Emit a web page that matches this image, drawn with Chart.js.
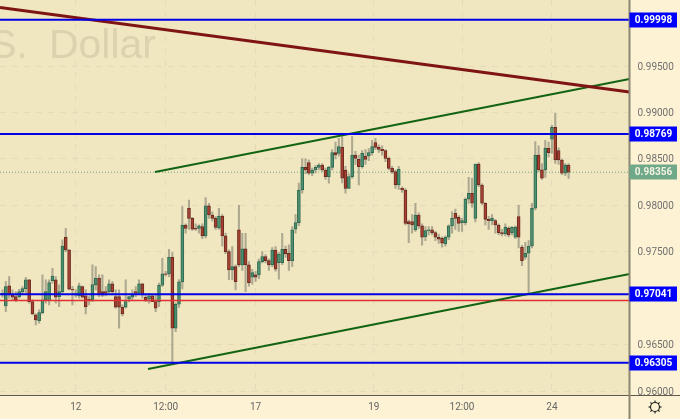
<!DOCTYPE html>
<html lang="en">
<head>
    <meta charset="UTF-8">
    <title>U.S. Dollar</title>
    <script src="https://cdn.jsdelivr.net/npm/chart.js"></script>
    <style>
        html, body { margin: 0; padding: 0; background: #fdf2d3; }
        canvas { display: block; }
    </style>
</head>
<body>
    <canvas id="priceChart" width="680" height="419"></canvas>

    <script>
        const opens = [
            .97035,.96916,.97132,.97035,.97017,.97017,.97067,.97103,.97196,.96963,
            .96820,.96758,.96845,.96981,.96974,.97189,.97196,.97017,.97071,.97656,
            .97519,.97096,.97031,.97024,.97125,.97024,.96988,.96974,.97143,.97214,
            .97071,.97071,.97071,.97153,.97017,.97017,.96902,.96902,.96988,.97010,
            .97071,.97053,.97153,.97010,.96988,.97024,.96963,.96963,.97139,.97261,
            .97261,.97440,.96676,.96934,.97175,.97788,.97968,.97860,.97752,.97752,
            .97770,.97670,.97993,.97896,.97860,.97756,.97885,.97670,.97501,.97304,
            .97340,.97735,.97358,.97530,.97358,.97225,.97250,.97250,.97394,.97448,
            .97404,.97358,.97519,.97383,.97383,.97526,.97483,.97404,.97742,.97814,
            .98165,.98409,.98459,.98345,.98380,.98409,.98434,.98380,.98309,.98409,
            .98567,.98560,.98624,.98380,.98183,.98309,.98542,.98495,.98416,.98531,
            .98531,.98567,.98675,.98624,.98603,.98589,.98506,.98398,.98362,.98219,
            .98183,.98165,.97824,.97824,.97735,.97896,.97778,.97663,.97728,.97735,
            .97706,.97656,.97645,.97584,.97656,.97778,.97914,.97871,.97814,.97814,
            .98065,.98129,.97860,.98445,.98219,.98022,.97849,.97835,.97835,.97788,
            .97706,.97692,.97753,.97706,.97656,.97878,.97548,.97441,.97484,.97562,.97968,
            .98542,.98381,.98381,.98614,.98711,.98840,.98589,.98488,.98345,.98434
        ];
        const highs = [
            .97089,.97178,.97232,.97089,.97071,.97096,.97125,.97225,.97203,.96981,
            .96830,.96873,.97250,.97196,.97196,.97322,.97232,.97143,.97627,.97752,
            .97526,.97125,.97089,.97161,.97132,.97089,.97017,.97358,.97340,.97250,
            .97250,.97125,.97196,.97178,.97089,.97089,.96927,.97196,.97017,.97089,
            .97125,.97196,.97160,.97035,.97053,.97040,.97035,.97161,.97429,.97290,
            .97526,.97490,.96950,.97200,.97986,.97800,.98057,.97870,.97800,.97790,
            .97800,.98083,.98020,.97930,.97880,.97968,.97900,.97700,.97520,.97555,
            .97360,.98000,.97699,.97699,.97394,.97311,.97290,.97420,.97501,.97470,
            .97420,.97545,.97555,.97490,.97699,.97560,.97573,.97770,.97900,.98240,
            .98500,.98500,.98490,.98400,.98430,.98450,.98450,.98400,.98420,.98600,
            .98680,.98721,.98739,.98420,.98340,.98739,.98580,.98540,.98590,.98600,
            .98610,.98700,.98721,.98650,.98640,.98600,.98520,.98420,.98380,.98420,
            .98200,.98180,.97840,.97900,.98022,.97920,.97800,.97770,.97770,.97770,
            .97720,.97690,.97660,.97670,.97790,.97930,.97960,.97890,.97860,.98080,
            .98300,.98290,.98445,.98460,.98230,.98030,.97880,.97900,.97850,.97800,
            .97740,.97800,.97770,.97770,.97780,.98000,.97570,.97600,.97620,.98020,.98685,
            .98640,.98450,.98700,.98680,.98860,.98990,.98620,.98500,.98450,.98450
        ];
        const lows = [
            .97010,.96855,.97000,.96981,.96963,.97000,.97046,.97053,.96945,.96820,
            .96712,.96730,.96830,.96945,.96927,.97161,.96945,.96909,.97053,.97501,
            .97089,.96927,.97010,.97000,.97000,.96830,.96927,.96963,.97089,.97017,
            .97017,.97024,.97053,.97035,.96891,.96676,.96809,.96891,.96960,.96981,
            .97017,.97046,.97000,.96963,.96945,.96963,.96855,.96909,.97125,.97240,
            .97232,.96305,.96640,.96900,.97100,.97700,.97740,.97730,.97730,.97700,
            .97640,.97650,.97860,.97830,.97740,.97740,.97560,.97480,.97200,.97196,
            .97089,.97340,.97300,.97071,.97130,.97150,.97180,.97210,.97380,.97380,
            .97300,.97340,.97290,.97204,.97360,.97440,.97300,.97340,.97700,.97780,
            .98130,.98340,.98330,.98320,.98350,.98380,.98360,.98280,.98237,.98380,
            .98500,.98530,.98240,.98130,.98180,.98290,.98440,.98219,.98400,.98440,
            .98480,.98540,.98600,.98570,.98540,.98470,.98380,.98340,.98183,.98170,
            .98140,.97790,.97598,.97700,.97720,.97750,.97570,.97620,.97680,.97680,
            .97620,.97590,.97550,.97560,.97630,.97700,.97740,.97720,.97720,.97790,
            .98020,.97980,.97820,.98200,.98010,.97790,.97740,.97790,.97700,.97680,
            .97670,.97670,.97660,.97680,.97640,.97540,.97350,.97420,.97041,.97540,.97950,
            .98360,.98280,.98300,.98520,.98560,.98450,.98440,.98330,.98320,.98290
        ];
        const closes = [
            .97053,.97125,.97035,.97010,.96981,.97071,.97103,.97196,.96963,.96830,
            .96766,.96845,.96981,.97071,.97168,.97239,.97010,.97071,.97562,.97519,
            .97096,.97089,.97046,.97132,.97010,.96909,.96974,.97146,.97214,.97035,
            .97031,.97053,.97153,.97071,.96902,.96902,.96830,.96963,.97017,.97035,
            .97053,.97153,.97035,.96981,.97024,.96963,.96891,.97139,.97261,.97255,
            .97440,.96676,.96934,.97175,.97788,.97752,.97860,.97742,.97742,.97778,
            .97670,.97993,.97896,.97860,.97763,.97885,.97670,.97501,.97304,.97340,
            .97178,.97358,.97530,.97358,.97168,.97275,.97225,.97394,.97448,.97404,
            .97358,.97519,.97311,.97476,.97526,.97476,.97404,.97735,.97814,.98165,
            .98409,.98380,.98345,.98380,.98409,.98434,.98380,.98309,.98409,.98567,
            .98542,.98632,.98291,.98183,.98309,.98542,.98506,.98416,.98560,.98495,
            .98567,.98632,.98624,.98603,.98589,.98506,.98398,.98362,.98219,.98388,
            .98165,.97806,.97799,.97788,.97896,.97778,.97656,.97728,.97735,.97706,
            .97656,.97634,.97591,.97656,.97778,.97860,.97860,.97806,.97835,.98065,
            .98129,.98022,.98445,.98219,.98022,.97849,.97835,.97860,.97788,.97706,
            .97692,.97763,.97681,.97763,.97763,.97656,.97405,.97484,.97562,.97968,.98542,
            .98381,.98291,.98614,.98567,.98840,.98488,.98488,.98345,.98434,.98356
        ];

        const priceTicks = [0.96, 0.965, 0.975, 0.98, 0.985, 0.99, 0.995];
        const timeTickBars = [22, 49, 76, 111.5, 138, 165];
        const timeTickLabels = ['12', '12:00', '17', '19', '12:00', '24'];
        const levelLines = [0.99998, 0.98769, 0.97041, 0.96305];
        const redLine = 0.96976;
        const lastPrice = 0.98356;

        const barMin = -0.75;
        const barMax = 188.29;
        const maroonTrend = [{x: barMin, y: 1.00131}, {x: barMax, y: 0.99220}];
        const upperTrend = [{x: 45.8, y: 0.98359}, {x: barMax, y: 0.99360}];
        const lowerTrend = [{x: 43.7, y: 0.96238}, {x: barMax, y: 0.97261}];

        const plotBg = '#f0e6c0';
        const axisBg = '#fdf2d3';

        const bars = opens.map((o, i) => i);
        const isUp = opens.map((o, i) => closes[i] >= o);

        function flatLine(value) {
            return [{x: barMin, y: value}, {x: barMax, y: value}];
        }

        function lineSet(data, color, width, order, dash) {
            return {
                type: 'line',
                data: data,
                borderColor: color,
                borderWidth: width,
                borderDash: dash || [],
                pointRadius: 0,
                tension: 0,
                order: order
            };
        }

        const chartDecor = {
            id: 'chartDecor',
            beforeDraw(chart) {
                const c = chart.ctx;
                const a = chart.chartArea;
                c.save();
                c.fillStyle = axisBg;
                c.fillRect(0, 0, chart.width, chart.height);
                c.fillStyle = plotBg;
                c.fillRect(a.left, a.top, a.right - a.left, a.bottom - a.top);
                c.restore();
            },
            beforeDatasetsDraw(chart) {
                const c = chart.ctx;
                const a = chart.chartArea;
                c.save();
                c.beginPath();
                c.rect(a.left, a.top, a.right - a.left, a.bottom - a.top);
                c.clip();
                c.font = '41px "Liberation Sans"';
                c.fillStyle = '#dcd2ae';
                c.textAlign = 'right';
                c.textBaseline = 'alphabetic';
                c.fillText('U.S.', 28, 58);
                c.fillText('Dollar', 156, 58);
                c.restore();
            },
            afterDraw(chart) {
                const c = chart.ctx;
                const a = chart.chartArea;
                const y = chart.scales.y;
                c.save();

                // axis borders
                c.strokeStyle = '#5e5a4e';
                c.lineWidth = 1;
                c.beginPath();
                c.moveTo(0, a.bottom + 0.5);
                c.lineTo(chart.width, a.bottom + 0.5);
                c.stroke();
                c.strokeStyle = '#8c8672';
                c.lineWidth = 2;
                c.beginPath();
                c.moveTo(a.right, 0);
                c.lineTo(a.right, chart.height);
                c.stroke();

                // price labels
                c.font = 'bold 10px Roboto';
                c.textAlign = 'center';
                c.textBaseline = 'middle';
                const tag = (value, bg, fg) => {
                    const py = y.getPixelForValue(value);
                    c.fillStyle = bg;
                    c.fillRect(a.right, Math.round(py) - 7.5, 47.5, 15);
                    c.fillStyle = fg;
                    c.fillText(value.toFixed(5), a.right + 24, py + 0.5);
                };
                levelLines.forEach(v => tag(v, '#0000ff', '#ffffff'));
                tag(lastPrice, '#70a88a', '#f2f2e0');

                // settings gear
                const gx = 655, gy = 407;
                c.strokeStyle = '#222222';
                c.lineWidth = 1.2;
                c.beginPath();
                c.arc(gx, gy, 4.5, 0, Math.PI * 2);
                c.stroke();
                for (let k = 0; k < 8; k++) {
                    const t = k * Math.PI / 4;
                    c.beginPath();
                    c.moveTo(gx + Math.cos(t) * 4.5, gy + Math.sin(t) * 4.5);
                    c.lineTo(gx + Math.cos(t) * 6.5, gy + Math.sin(t) * 6.5);
                    c.stroke();
                }
                c.restore();
            }
        };

        new Chart(document.getElementById('priceChart').getContext('2d'), {
            type: 'bar',
            plugins: [chartDecor],
            data: {
                datasets: [
                    lineSet(flatLine(lastPrice), '#6fa88a', 1, 6, [1, 2]),
                    {
                        data: bars.map(i => ({x: i, y: [lows[i], highs[i]]})),
                        backgroundColor: 'rgba(105,105,95,0.5)',
                        barThickness: 1.4,
                        grouped: false,
                        order: 5
                    },
                    {
                        data: bars.map(i => ({x: i, y: [opens[i], closes[i]]})),
                        backgroundColor: isUp.map(u => u ? '#4f8f70' : '#a8402f'),
                        borderColor: isUp.map(u => u ? '#2d6b50' : '#6a2a20'),
                        borderWidth: 1,
                        borderSkipped: false,
                        barThickness: 3,
                        grouped: false,
                        order: 4
                    },
                    lineSet(flatLine(redLine), '#e03030', 1.5, 3),
                    lineSet(maroonTrend, '#7f1414', 3, 2),
                    lineSet(upperTrend, '#126412', 2, 2),
                    lineSet(lowerTrend, '#126412', 2, 2),
                    ...levelLines.map(v => lineSet(flatLine(v), '#0000e6', 2, 1))
                ]
            },
            options: {
                responsive: false,
                animation: false,
                layout: {padding: 0},
                plugins: {legend: {display: false}, tooltip: {enabled: false}},
                scales: {
                    x: {
                        type: 'linear',
                        offset: false,
                        min: barMin,
                        max: barMax,
                        afterBuildTicks(axis) {
                            axis.ticks = timeTickBars.map(v => ({value: v}));
                        },
                        afterFit(axis) {
                            axis.height = 24;
                            axis.paddingLeft = 0;
                            axis.paddingRight = 0;
                        },
                        grid: {offset: false, color: '#e4dbb8', drawTicks: false, lineWidth: 1},
                        border: {display: false, dash: [6, 6]},
                        ticks: {
                            autoSkip: false,
                            maxRotation: 0,
                            padding: 6,
                            color: '#666666',
                            font: {family: 'Roboto', size: 10},
                            callback: (value, index) => timeTickLabels[index]
                        }
                    },
                    y: {
                        position: 'right',
                        min: 0.95957,
                        max: 1.00211,
                        afterBuildTicks(axis) {
                            axis.ticks = priceTicks.map(v => ({value: v}));
                        },
                        afterFit(axis) {
                            axis.width = 50.5;
                            axis.paddingTop = 0;
                            axis.paddingBottom = 0;
                        },
                        grid: {color: '#e4dbb8', drawTicks: false, lineWidth: 1},
                        border: {display: false, dash: [6, 6]},
                        ticks: {
                            padding: 8,
                            labelOffset: 1,
                            color: '#707070',
                            font: {family: 'Roboto', size: 10},
                            callback: value => value.toFixed(5)
                        }
                    }
                }
            }
        });
    </script>
</body>
</html>
